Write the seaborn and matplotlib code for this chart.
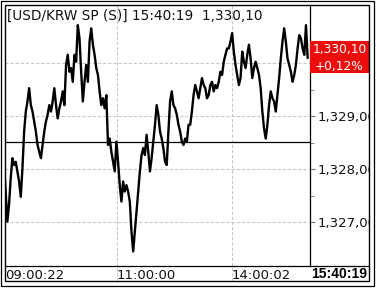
import matplotlib
matplotlib.use("Agg")
import matplotlib.pyplot as plt
import seaborn as sns
import numpy as np
from matplotlib.patches import Rectangle
from matplotlib.lines import Line2D

# ---------------- data ----------------
seg_morning = [1328.14, 1327.58, 1327.01, 1327.33, 1327.83, 1328.21, 1328.08, 1328.14, 1327.96, 1327.77,
               1327.48, 1328.02, 1328.71, 1329.09, 1329.28, 1329.53, 1329.21, 1329.09, 1328.90, 1328.71,
               1328.46, 1328.33, 1328.21, 1328.46, 1328.71, 1328.90, 1329.03, 1329.21, 1329.09, 1329.28,
               1329.53, 1329.21, 1328.96, 1329.15, 1329.28, 1329.47, 1329.21, 1329.97, 1330.16, 1329.84,
               1329.91, 1329.65, 1330.16, 1330.03, 1330.72, 1330.47, 1329.84, 1329.28, 1329.65, 1329.97,
               1329.65, 1330.41, 1330.66, 1330.35, 1330.16, 1329.91, 1329.78, 1329.47, 1329.21, 1329.34,
               1329.15, 1329.40, 1328.46]
seg_midday = [1328.58, 1328.33, 1328.14, 1327.96, 1328.52, 1328.14, 1327.70, 1327.39, 1327.77, 1327.58,
              1327.70, 1327.58, 1327.39, 1326.82, 1326.45, 1326.82, 1327.20, 1327.58, 1327.96, 1328.27,
              1328.40, 1328.27, 1328.65, 1328.33, 1327.96, 1328.21, 1328.52, 1328.84, 1329.21, 1329.03,
              1328.71, 1328.58, 1328.40, 1328.14, 1328.08, 1328.71, 1329.28, 1329.47, 1329.21, 1329.15,
              1329.03, 1328.84, 1328.71, 1328.52, 1328.46, 1328.58, 1328.52, 1328.84, 1328.84, 1329.09,
              1329.40, 1329.59, 1329.47, 1329.34, 1329.53, 1329.72, 1329.59, 1329.53, 1329.34, 1329.40]
seg_afternoon = [1329.59, 1329.65, 1329.47, 1329.59, 1329.53, 1329.65, 1329.84, 1329.78, 1330.03, 1330.16,
                 1330.28, 1330.28, 1330.41, 1330.57, 1330.22, 1329.97, 1329.78, 1329.59, 1329.72, 1330.22,
                 1330.03, 1329.91, 1330.16, 1330.35, 1330.09, 1329.72, 1329.91, 1330.03, 1329.91, 1329.78,
                 1329.53, 1329.09, 1328.77, 1328.58, 1328.84, 1329.21, 1329.47, 1329.34, 1329.28, 1329.09,
                 1329.40, 1329.72, 1330.09, 1330.41, 1330.66, 1330.41, 1330.09, 1329.97, 1329.84, 1329.65,
                 1329.78, 1329.97, 1330.28, 1330.53, 1330.47, 1330.28, 1330.16, 1330.72, 1330.10]

prev_close = 1328.51
last_price_label = "1,330,10"
change_label = "+0,12%"
title_text = "[USD/KRW SP (S)] 15:40:19  1,330,10"
now_label = "15:40:19"
y_ticks = [1327, 1328, 1329, 1330]
y_tick_labels = ["1,327,00", "1,328,00", "1,329,00", ""]  # 1,330,00 sits under the price box
y_minor_ticks = [1327.5, 1328.5, 1329.5]
x_tick_labels = ["09:00:22", "11:00:00", "14:00:02"]
x_tick_index = [0.6, 67.3, 135.9]
grid_index = [67.3, 135.9]

prices = seg_morning + seg_midday + seg_afternoon
idx = np.arange(len(prices))

# ---------------- figure ----------------
sns.set_style("white")
plt.rcParams["font.family"] = ["DejaVu Sans"]
plt.rcParams["lines.scale_dashes"] = False

W, H = 376, 288
fig = plt.figure(figsize=(W / 100, H / 100), dpi=100)
fig.patch.set_facecolor("white")

def fx(x):
    return x / W

def fy(y):
    return 1 - y / H

L, R, T, B = 5, 310, 5, 265.7
ax = fig.add_axes([fx(L), fy(B), (R - L) / W, (B - T) / H])
ax.set_facecolor("white")

grid_col = "#c4c4c4"
dash = (0, (2.2, 1.5))
for v in y_ticks:
    ax.axhline(v, color=grid_col, lw=0.75, ls=dash, zorder=1)
row_ext = (281 - B) / (B - T)
for gx in grid_index:
    ax.axvline(gx, ymin=-row_ext, ymax=1, color=grid_col, lw=0.75, ls=dash,
               clip_on=False, zorder=1)

ax.axhline(prev_close, color="black", lw=0.9, zorder=2)

sns.lineplot(x=idx, y=prices, ax=ax, color="black", lw=1.7, zorder=3,
             estimator=None, errorbar=None)

ax.set_xlim(0.6, 182.4)
ax.set_ylim(1326.18, 1331.10)

for s in ["top", "left"]:
    ax.spines[s].set_visible(False)
for s in ["right", "bottom"]:
    ax.spines[s].set_color("black")
    ax.spines[s].set_linewidth(0.9)

ax.yaxis.tick_right()
ax.set_yticks(y_ticks)
ax.set_yticklabels(y_tick_labels)
ax.set_yticks(y_minor_ticks, minor=True)
ax.tick_params(axis="y", which="major", direction="out", length=3.8, width=0.8,
               color="#707070", pad=1.5, labelsize=9.5, labelcolor="#111111")
ax.tick_params(axis="y", which="minor", direction="out", length=2.8, width=0.8,
               color="#909090")
ax.set_xticks(x_tick_index)
ax.set_xticklabels(x_tick_labels)
ax.tick_params(axis="x", length=0, pad=2.4, labelsize=9.5, labelcolor="#111111")
for lbl in ax.get_xticklabels():
    lbl.set_horizontalalignment("left")
ax.set_xlabel("")
ax.set_ylabel("")

ax.text(0.007, 0.96, title_text, transform=ax.transAxes, ha="left", va="center",
        fontsize=9.8, color="#111111", zorder=5)

# bottom row line extends across to the right frame
fig.add_artist(Line2D([fx(R), fx(368.5)], [fy(B), fy(B)], transform=fig.transFigure,
                      color="black", lw=0.9))

# red price box
fig.add_artist(Rectangle((fx(309.5), fy(73.3)), (368.5 - 309.5) / W, (73.3 - 40.7) / H,
                         transform=fig.transFigure, facecolor="#ee0d0d", edgecolor="none",
                         zorder=4))
fig.text(fx(339.5), fy(49.8), last_price_label, ha="center", va="center", color="white",
         fontsize=8.8, zorder=6)
fig.text(fx(339.5), fy(66.6), change_label, ha="center", va="center", color="white",
         fontsize=8.8, zorder=6)

fig.text(fx(367.5), fy(274), now_label, ha="right", va="center", color="black",
         fontsize=10, fontweight="bold", family=["Liberation Sans"], zorder=6)

# cover overflow beyond the inner frame
fig.add_artist(Rectangle((fx(369), 0), (W - 369) / W, 1, transform=fig.transFigure,
                         facecolor="white", edgecolor="none", zorder=7))

# frames
def frame(x0, y0, x1, y1, lw):
    fig.add_artist(Rectangle((fx(x0), fy(y1)), (x1 - x0) / W, (y1 - y0) / H,
                             transform=fig.transFigure, facecolor="none",
                             edgecolor="black", lw=lw, zorder=8))

frame(5, 5, 368.5, 281, 1.0)
frame(0.5, 0.5, 373.5, 286, 0.9)

fig.savefig("out.png", dpi=100, facecolor="white")
